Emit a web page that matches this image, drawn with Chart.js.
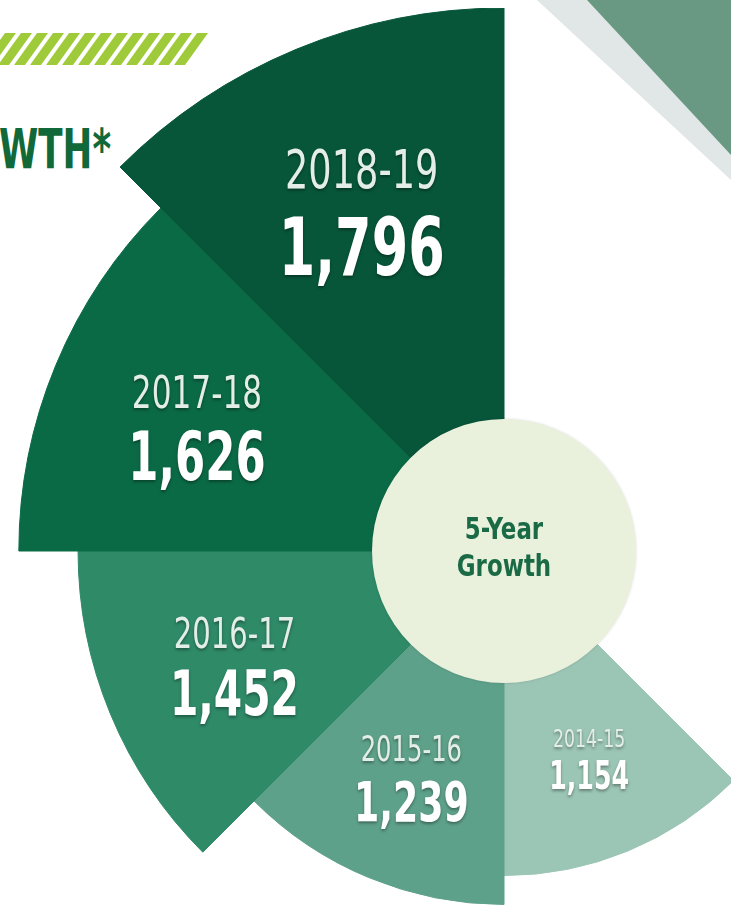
<!DOCTYPE html>
<html>
<head>
<meta charset="utf-8">
<script src="https://cdn.jsdelivr.net/npm/chart.js@4.4.1/dist/chart.umd.min.js"></script>
<style>
  html, body { margin: 0; padding: 0; background: #fff; }
  body { width: 731px; height: 920px; overflow: hidden; position: relative; }
  #deco { position: absolute; left: 0; top: 0; }
  #wrap { position: absolute; left: -39px; top: 8px; width: 1086px; height: 1086px; }
  .title {
    position: absolute; left: -1px; top: 117px;
    font-family: "DejaVu Sans Condensed", "Liberation Sans Narrow", sans-serif;
    font-weight: bold; font-size: 55px; color: #11693a;
    transform: scaleX(0.72); transform-origin: left top; white-space: nowrap;
  }
</style>
</head>
<body>
<svg id="deco" width="731" height="920"></svg>
<div class="title">WTH*</div>
<div id="wrap"><canvas id="growth" width="1086" height="1086"></canvas></div>

<script>
// enrolment per year, clockwise from the lower right
const years = ['2014-15', '2015-16', '2016-17', '2017-18', '2018-19'];
const students = [1154, 1239, 1452, 1626, 1796];
const wedgeColors = ['#9bc5b4', '#5ea18a', '#2f8a68', '#0b6a46', '#07563a'];
const yearFont = [25, 35, 42, 45, 53];
const countFont = [39, 56, 63, 67, 81];

const narrow = '"DejaVu Sans Condensed", "Liberation Sans Narrow", sans-serif';

// background bits: lime stripes, grey band and green corner
let svg = document.getElementById('deco');
let shapes = '<polygon points="537,0 731,0 731,180" fill="#e1e6e7"/>';
shapes += '<polygon points="587,0 731,0 731,155" fill="#6a9983"/>';
for (let k = 0; k < 13; k++) {
    let x0 = 174 - 16 * k;
    shapes += `<polygon points="${x0},65 ${x0 + 11},65 ${x0 + 34},33 ${x0 + 23},33" fill="#9fcb3b"/>`;
}
svg.innerHTML = shapes;

// squeezed text, the original uses a condensed face
function narrowText(ctx, text, x, y, sx) {
    ctx.save();
    ctx.translate(x, y);
    ctx.scale(sx, 1);
    ctx.fillText(text, 0, 0);
    ctx.restore();
}

const wedgeLabels = {
    id: 'wedgeLabels',
    afterDatasetsDraw(chart) {
        const ctx = chart.ctx;
        const meta = chart.getDatasetMeta(0);
        const r = chart.scales.r;

        meta.data.forEach((arc, i) => {
            const p = arc.getProps(['x', 'y', 'startAngle', 'endAngle', 'outerRadius'], true);
            const mid = (p.startAngle + p.endAngle) / 2;
            const d = p.outerRadius * 0.685;
            const cx = p.x + Math.cos(mid) * d;
            const cy = p.y + Math.sin(mid) * d;
            const capY = yearFont[i] * 0.72;
            const capV = countFont[i] * 0.72;
            const gap = capV * 1.32;

            ctx.save();
            ctx.textAlign = 'center';
            ctx.textBaseline = 'alphabetic';
            ctx.shadowColor = 'rgba(0,0,0,0.35)';
            ctx.shadowBlur = 3;
            ctx.shadowOffsetY = 2;
            ctx.fillStyle = '#e4eee8';
            ctx.font = `${yearFont[i]}px ${narrow}`;
            narrowText(ctx, years[i], cx, cy - gap / 2 + capY / 2, 0.77);
            ctx.fillStyle = '#ffffff';
            ctx.font = `bold ${countFont[i]}px ${narrow}`;
            narrowText(ctx, students[i].toLocaleString('en-US'), cx, cy + gap / 2 + capV / 2, 0.72);
            ctx.restore();
        });

        // centre disc
        ctx.save();
        ctx.beginPath();
        ctx.arc(r.xCenter, r.yCenter, 132, 0, Math.PI * 2);
        ctx.fillStyle = '#e9f1dc';
        ctx.shadowColor = 'rgba(0,0,0,0.15)';
        ctx.shadowBlur = 3;
        ctx.fill();
        ctx.restore();

        ctx.save();
        ctx.fillStyle = '#1a6a45';
        ctx.textAlign = 'center';
        ctx.textBaseline = 'middle';
        ctx.font = `bold 30px ${narrow}`;
        narrowText(ctx, '5-Year', r.xCenter, r.yCenter - 20, 0.85);
        narrowText(ctx, 'Growth', r.xCenter, r.yCenter + 17, 0.85);
        ctx.restore();
    }
};

const chart = new Chart(document.getElementById('growth'), {
    type: 'polarArea',
    data: {
        labels: years,
        datasets: [{
            data: students,
            backgroundColor: wedgeColors,
            borderColor: wedgeColors,
            borderWidth: 1,
            angle: 45
        }]
    },
    options: {
        responsive: false,
        animation: false,
        layout: { padding: 0 },
        plugins: {
            legend: { display: false },
            tooltip: { enabled: false }
        },
        scales: {
            r: {
                display: false,
                min: 200,
                max: 1796,
                beginAtZero: false,
                startAngle: 135
            }
        }
    },
    plugins: [wedgeLabels]
});
</script>
</body>
</html>
